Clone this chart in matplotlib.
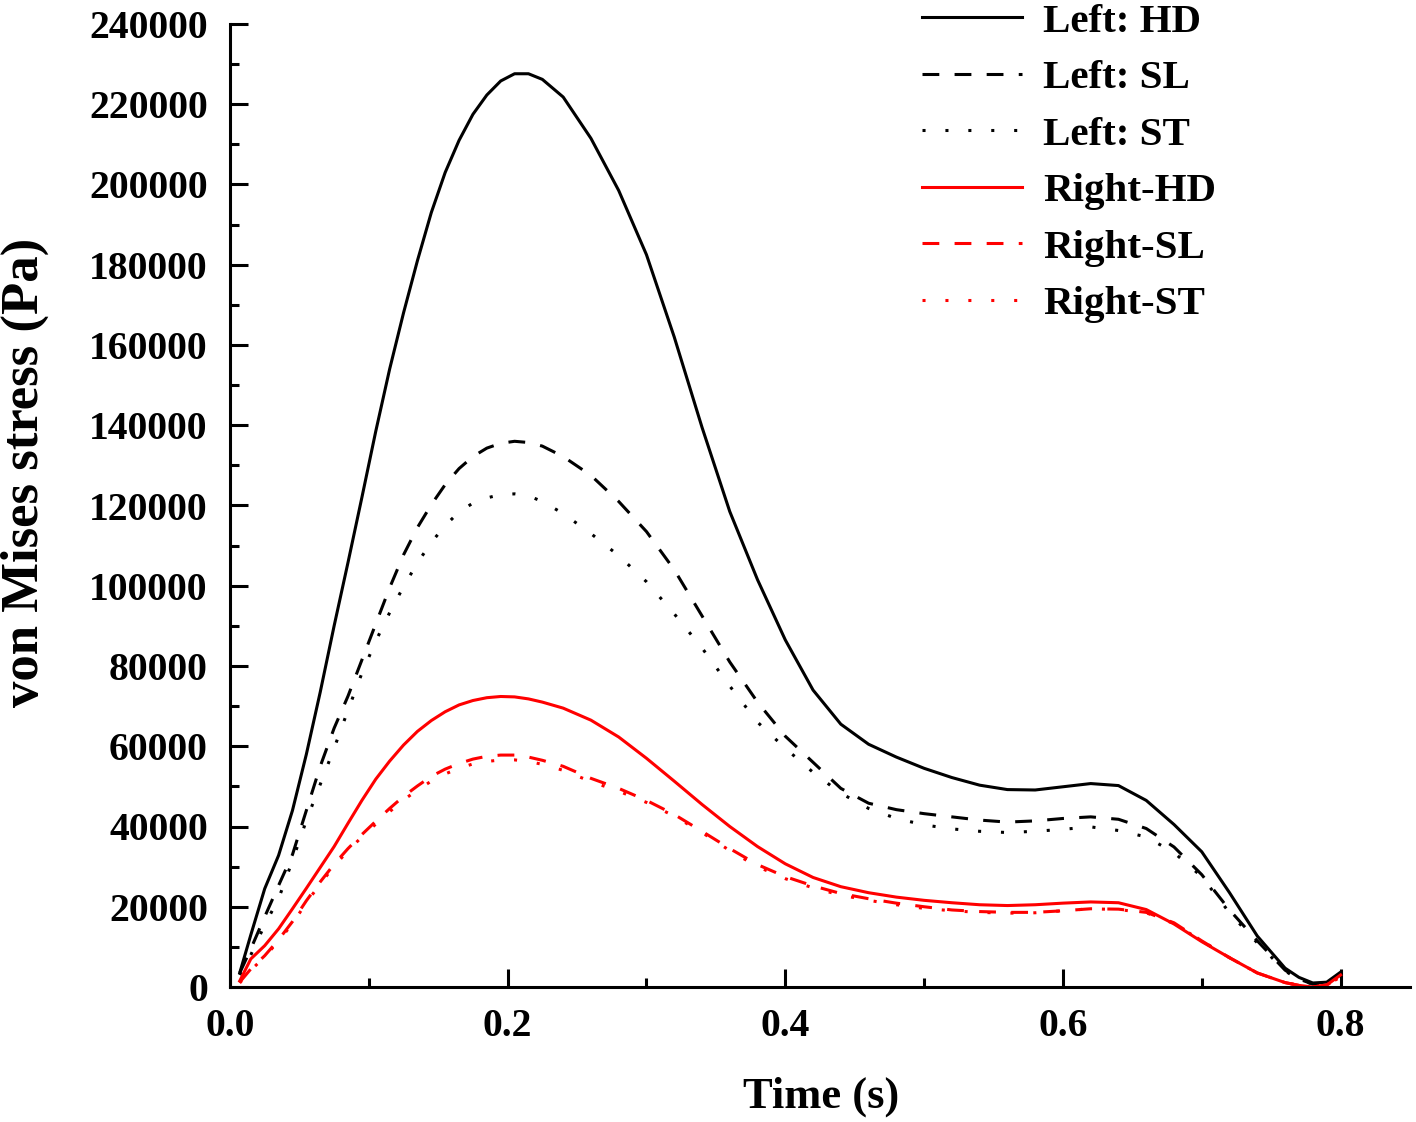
import matplotlib
matplotlib.use("Agg")
import matplotlib.pyplot as plt
from matplotlib.ticker import MultipleLocator, FormatStrFormatter

# ---------------- data (time in s, von Mises stress in Pa) ----------------
time_s = [0.007, 0.015, 0.025, 0.035, 0.045, 0.055, 0.065, 0.075, 0.085, 0.095,
          0.105, 0.115, 0.125, 0.135, 0.145, 0.155, 0.165, 0.175, 0.185, 0.195,
          0.205, 0.215, 0.225, 0.24, 0.26, 0.28, 0.30, 0.32, 0.34, 0.36,
          0.38, 0.40, 0.42, 0.44, 0.46, 0.48, 0.50, 0.52, 0.54, 0.56,
          0.58, 0.60, 0.62, 0.64, 0.66, 0.68, 0.70, 0.72, 0.74, 0.76,
          0.77, 0.78, 0.79, 0.80]

left_hd = [3500, 13000, 24500, 32800, 44000, 58000, 73500, 90000, 105800, 122000,
           138500, 154000, 168000, 181000, 193000, 203000, 211000, 217500, 222300, 225800,
           227600, 227600, 226200, 221800, 211500, 198500, 182500, 162000, 139500, 118500,
           101500, 86500, 74000, 65500, 60500, 57300, 54500, 52200, 50300, 49200,
           49100, 49900, 50700, 50200, 46500, 40500, 33700, 23500, 12700, 4700,
           2400, 1000, 1200, 3700]

left_sl = [3500, 9500, 17500, 25300, 33000, 44000, 55000, 64500, 72500, 81500,
           90500, 99500, 107700, 114500, 120200, 125200, 129200, 132200, 134300, 135500,
           136000, 135700, 134800, 132200, 127500, 121000, 113500, 104000, 92500, 81000,
           71000, 62500, 56000, 49500, 45800, 44200, 43200, 42400, 41600, 41100,
           41400, 42000, 42400, 41800, 39500, 34900, 28000, 19200, 11500, 4200,
           2000, 700, 1000, 3000]

left_st = [3000, 8000, 15500, 22000, 31500, 41500, 50500, 59500, 69000, 78200,
           86200, 93300, 99800, 105700, 110800, 115000, 118400, 120600, 121900, 122700,
           122900, 122400, 121000, 118000, 113000, 107500, 101000, 93000, 84500, 75000,
           66000, 59500, 53500, 48300, 44500, 42000, 40400, 39400, 38800, 38500,
           38800, 39300, 39900, 39000, 37400, 33500, 27500, 18500, 11000, 4000,
           1900, 700, 1000, 3000]

right_hd = [1500, 7000, 10300, 14500, 19500, 24600, 29800, 35000, 40800, 46500,
            51800, 56300, 60300, 63700, 66400, 68600, 70300, 71400, 72100, 72400,
            72300, 71800, 71000, 69500, 66500, 62300, 57000, 51300, 45500, 40000,
            35000, 30700, 27300, 25000, 23500, 22400, 21600, 21000, 20500, 20300,
            20500, 20900, 21200, 21000, 19300, 15700, 11300, 7300, 3500, 1100,
            400, 0, 500, 3000]

right_sl = [1200, 4500, 7800, 11800, 16300, 21500, 26200, 30600, 34500, 38000,
            41300, 44500, 47500, 50100, 52500, 54300, 55700, 56800, 57500, 57800,
            57800, 57300, 56500, 55000, 52000, 49500, 46500, 43000, 38800, 34500,
            30500, 27500, 25200, 23300, 22000, 20900, 20000, 19200, 18800, 18600,
            18600, 19000, 19500, 19400, 18600, 16000, 11500, 7300, 3500, 1100,
            400, 0, 500, 2500]

right_st = [1000, 4200, 7500, 11500, 15800, 21000, 25700, 30100, 34000, 37400,
            40600, 43700, 46600, 49100, 51300, 53100, 54500, 55600, 56200, 56600,
            56600, 56200, 55500, 54000, 51200, 48800, 46000, 42600, 38500, 34000,
            30000, 27000, 24700, 22900, 21600, 20500, 19600, 19000, 18600, 18400,
            18500, 19000, 19500, 19300, 18500, 15800, 11500, 7300, 3500, 1100,
            400, 0, 500, 2500]

series_labels = ["Left: HD", "Left: SL", "Left: ST", "Right-HD", "Right-SL", "Right-ST"]
x_tick_values = [0.0, 0.2, 0.4, 0.6, 0.8]
y_tick_values = list(range(0, 240001, 20000))

# ---------------- style ----------------
plt.rcParams['font.family'] = ['Liberation Serif', 'DejaVu Serif']
plt.rcParams['font.weight'] = 'bold'

W, H = 1416, 1122
fig = plt.figure(figsize=(W / 100, H / 100), dpi=100)
ax = fig.add_axes([230 / W, 135 / H, 1180 / W, 963 / H])

lw = 2.2
dash = (5.5, 5.0)
dot = (1.0, 6.5)
series = [left_hd, left_sl, left_st, right_hd, right_sl, right_st]
colors = ['black', 'black', 'black', '#ff0000', '#ff0000', '#ff0000']
styles = [None, dash, dot, None, dash, dot]
for ys, c, st, lab in zip(series, colors, styles, series_labels):
    kw = dict(color=c, lw=lw, label=lab, clip_on=False, solid_joinstyle='round')
    if st is not None:
        kw['dashes'] = st
    ax.plot(time_s, ys, **kw)

ax.set_xlim(0, 0.85)
ax.set_ylim(0, 240000)
ax.set_xticks(x_tick_values)
ax.set_yticks(y_tick_values)
ax.xaxis.set_minor_locator(MultipleLocator(0.1))
ax.yaxis.set_minor_locator(MultipleLocator(10000))
ax.xaxis.set_major_formatter(FormatStrFormatter('%.1f'))
ax.yaxis.set_major_formatter(FormatStrFormatter('%d'))

for s in ['top', 'right']:
    ax.spines[s].set_visible(False)
for s in ['left', 'bottom']:
    ax.spines[s].set_linewidth(2.2)

ax.tick_params(which='major', direction='in', length=13, width=2.2, labelsize=28.5)
ax.tick_params(axis='y', which='major', pad=16)
ax.tick_params(axis='x', which='major', pad=15)
ax.tick_params(which='minor', direction='in', length=6.5, width=2.2)

fig.text(821 / W, 1 - 1097 / H, 'Time (s)', fontsize=32, fontweight='bold',
         ha='center', va='center')
fig.text(25 / W, 1 - 472 / H, 'von Mises stress (Pa)', fontsize=38, fontweight='bold',
         ha='center', va='center', rotation=90)

leg = ax.legend(loc='upper left', bbox_to_anchor=(922 / W, 1 - 3 / H),
                bbox_transform=fig.transFigure, frameon=False, fontsize=29.5,
                borderpad=0, borderaxespad=0, handlelength=2.45,
                handletextpad=0.5, labelspacing=0.46)

fig.savefig('out.png', dpi=100)
